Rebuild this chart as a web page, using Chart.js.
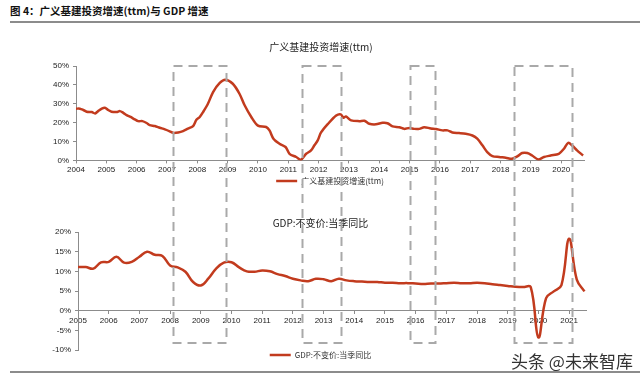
<!DOCTYPE html>
<html><head><meta charset="utf-8">
<script src="https://cdn.jsdelivr.net/npm/chart.js@4/dist/chart.umd.min.js"></script>
<style>
html,body{margin:0;padding:0;background:#fff;}
body{width:640px;height:381px;position:relative;overflow:hidden;font-family:"Noto Sans CJK SC","Liberation Sans",sans-serif;}
#hdr{position:absolute;left:10px;top:3px;font-size:10.5px;font-weight:bold;color:#111;line-height:16px;white-space:nowrap;}
#rule1{position:absolute;left:10px;right:0;top:21px;border-top:2px solid #8c8c8c;}
#rule2{position:absolute;left:10px;right:0;top:371px;border-top:2px solid #8c8c8c;}
#wm{position:absolute;left:511px;top:350px;font-size:17px;color:#333;line-height:22px;white-space:nowrap;}
#c1{position:absolute;left:0;top:30px;}
#c2{position:absolute;left:0;top:200px;}
#ov{position:absolute;left:0;top:0;pointer-events:none;}
</style></head>
<body>
<div id="hdr">图 4：广义基建投资增速(ttm)与 GDP 增速</div>
<div id="rule1"></div>
<canvas id="c1" width="640" height="165"></canvas>
<canvas id="c2" width="640" height="170"></canvas>
<canvas id="ov" width="640" height="381"></canvas>
<div id="rule2"></div>
<div id="wm">头条 @未来智库</div>
<script>
// ---- data: 广义基建投资增速(ttm), % ----
const infraDates = [2004.00,2004.13,2004.24,2004.35,2004.52,2004.63,2004.73,2004.85,2004.95,2005.06,2005.17,2005.34,2005.45,2005.56,2005.67,2005.80,2005.94,2006.05,2006.19,2006.33,2006.43,2006.60,2006.76,2006.93,2007.09,2007.20,2007.37,2007.53,2007.69,2007.86,2007.97,2008.08,2008.19,2008.35,2008.52,2008.74,2008.92,2009.17,2009.39,2009.56,2009.78,2010.00,2010.27,2010.38,2010.51,2010.71,2010.91,2011.04,2011.26,2011.42,2011.59,2011.75,2011.86,2011.97,2012.08,2012.30,2012.58,2012.73,2012.82,2012.90,2013.07,2013.34,2013.51,2013.67,2013.89,2014.11,2014.27,2014.44,2014.66,2014.82,2014.99,2015.15,2015.32,2015.48,2015.70,2015.87,2016.08,2016.25,2016.41,2016.63,2016.85,2017.07,2017.23,2017.40,2017.56,2017.73,2017.95,2018.17,2018.38,2018.55,2018.71,2018.88,2019.04,2019.24,2019.43,2019.65,2019.92,2020.09,2020.23,2020.36,2020.52,2020.72];
const infraValues = [27.4,27.4,26.7,25.8,25.6,24.9,26.1,27.4,27.9,26.7,25.8,25.6,26.1,25.2,24.0,23.0,21.7,20.8,20.8,19.8,18.7,18.2,17.3,16.4,15.4,14.6,14.8,15.5,16.8,18.2,21.5,23.0,25.6,30.0,36.2,41.0,42.7,40.6,35.3,29.2,23.0,18.4,17.7,15.9,11.5,8.8,7.1,3.5,1.8,0.4,3.5,5.3,8.0,10.6,14.8,19.2,23.8,24.4,22.6,23.3,21.2,20.8,21.0,19.4,19.1,19.9,19.7,18.0,17.6,16.7,17.2,16.7,16.7,17.6,16.9,16.6,15.9,15.9,14.8,14.5,14.1,13.2,11.5,8.0,4.4,2.3,1.8,1.4,0.9,2.1,3.9,3.9,2.6,0.5,1.8,2.6,3.5,6.2,9.3,7.9,5.3,2.6];
const topYearTicks = [2004,2005,2006,2007,2008,2009,2010,2011,2012,2013,2014,2015,2016,2017,2018,2019,2020];

// ---- data: GDP:不变价:当季同比, % (quarterly, 2005Q1 - 2021Q3) ----
const gdpYears = [2005,2006,2007,2008,2009,2010,2011,2012,2013,2014,2015,2016,2017,2018,2019,2020,2021];
const gdpValues = [
 11.1,11.1,10.7,12.3,
 12.4,13.7,12.2,12.4,
 13.7,15.0,14.2,13.9,
 11.5,11.0,9.9,7.3,
 6.4,8.2,10.7,12.2,
 12.3,11.0,10.0,9.9,
 10.2,10.0,9.3,8.8,
 8.1,7.7,7.5,8.1,
 8.0,7.5,8.1,7.7,
 7.5,7.4,7.3,7.3,
 7.1,7.1,7.0,7.0,
 6.9,6.8,6.9,6.9,
 7.0,7.1,7.0,7.0,
 7.1,7.0,6.7,6.5,
 6.3,6.1,6.0,6.0,
 -6.8,3.2,4.9,6.5,
 18.3,7.9,4.9];
const bottomYearTicks = gdpYears;

// ---- highlighted periods (years on the top chart's axis) ----
const highlightStarts = [2007.19, 2011.45, 2015.01, 2018.43];
const highlightEnds   = [2008.94, 2012.75, 2015.85, 2020.33];

const infraName = '广义基建投资增速(ttm)';
const gdpName = 'GDP:不变价:当季同比';

const LAT = 'Liberation Sans, Arial, sans-serif';
const CJK = '"Noto Sans CJK SC", "Liberation Sans", sans-serif';
const AX = '#8c8c8c';
const RED = '#C23B1E';

const infraPts = infraDates.map((d,i)=>({x:d,y:infraValues[i]}));
const gdpPts = gdpValues.map((v,i)=>({x: gdpYears[0] + Math.floor(i/4) + (i%4)/4, y: v}));

function commonX(min,max,ticksArr,pad){
  return {type:'linear',min:min,max:max,
    afterBuildTicks:(s)=>{s.ticks = ticksArr.map(v=>({value:v}));},
    ticks:{autoSkip:false,maxRotation:0,padding:pad,color:'#222',font:{family:LAT,size:8},callback:v=>String(v)},
    grid:{display:true,drawOnChartArea:false,drawTicks:true,tickLength:3,color:AX},
    border:{display:true,color:AX,width:1}};
}
function spacer(w){
  return {position:'right',display:true,afterFit:(s)=>{s.width=w;},
    ticks:{display:false},grid:{display:false},border:{display:false}};
}

const chart1 = new Chart(document.getElementById('c1'),{
  type:'line',
  data:{datasets:[{label:infraName,data:infraPts,borderColor:RED,backgroundColor:RED,borderWidth:2.5,pointRadius:0,tension:0.3,yAxisID:'y'}]},
  options:{responsive:false,animation:false,devicePixelRatio:1,
    layout:{padding:{left:40,right:38,top:11,bottom:0}},
    plugins:{
      title:{display:true,text:infraName,color:'#222',font:{family:CJK,size:10,weight:'normal'},padding:{top:0,bottom:13}},
      legend:{display:true,position:'bottom',fullSize:false,
        labels:{usePointStyle:true,pointStyle:'line',pointStyleWidth:21,boxWidth:21,boxHeight:8,padding:0,color:'#333',font:{family:CJK,size:8}}},
      tooltip:{enabled:false}},
    scales:{
      x:commonX(2004,2020.75,topYearTicks,2),
      y:{min:0,max:50,afterFit:(s)=>{s.width=36;},
        ticks:{stepSize:5,padding:4,color:'#222',font:{family:LAT,size:8},callback:v=>v+'%'},
        grid:{display:true,drawOnChartArea:false,tickLength:3,color:AX},
        border:{display:true,color:AX,width:1}},
      yr:spacer(18)
    }}
});

const xb = commonX(2005,2021.55,bottomYearTicks,2);
xb.position = {y:0};
const chart2 = new Chart(document.getElementById('c2'),{
  type:'line',
  data:{datasets:[{label:gdpName,data:gdpPts,borderColor:RED,backgroundColor:RED,borderWidth:2.5,pointRadius:0,tension:0.4,yAxisID:'y'}]},
  options:{responsive:false,animation:false,devicePixelRatio:1,
    layout:{padding:{left:40,right:39,top:17,bottom:1}},
    plugins:{
      title:{display:true,text:gdpName,color:'#222',font:{family:CJK,size:10,weight:'normal'},padding:{top:0,bottom:3}},
      legend:{display:true,position:'bottom',
        labels:{usePointStyle:true,pointStyle:'line',pointStyleWidth:21,boxWidth:21,boxHeight:8,padding:1,color:'#333',font:{family:CJK,size:8}}},
      tooltip:{enabled:false}},
    scales:{
      x:xb,
      y:{min:-10,max:20,afterFit:(s)=>{s.width=38;},
        ticks:{stepSize:5,padding:4,color:'#222',font:{family:LAT,size:8},callback:v=>v+'%'},
        grid:{display:true,drawOnChartArea:false,tickLength:3,color:AX},
        border:{display:true,color:AX,width:1}},
      yr:spacer(15)
    }}
});

// ---- dashed highlight boxes spanning both panels ----
(function(){
  const c1 = document.getElementById('c1'), c2 = document.getElementById('c2');
  const ctx = document.getElementById('ov').getContext('2d');
  const xs = chart1.scales.x;
  const top = c1.offsetTop + chart1.scales.y.getPixelForValue(50);
  const bottom = c2.offsetTop + chart2.scales.y.getPixelForValue(-8.2);
  ctx.strokeStyle = '#a9a9a9';
  ctx.lineWidth = 2;
  ctx.setLineDash([9,6]);
  highlightStarts.forEach((s,i)=>{
    const x0 = c1.offsetLeft + xs.getPixelForValue(s);
    const x1 = c1.offsetLeft + xs.getPixelForValue(highlightEnds[i]);
    ctx.strokeRect(Math.round(x0)+0.5, Math.round(top), Math.round(x1-x0), Math.round(bottom-top));
  });
})();
</script>
</body></html>
